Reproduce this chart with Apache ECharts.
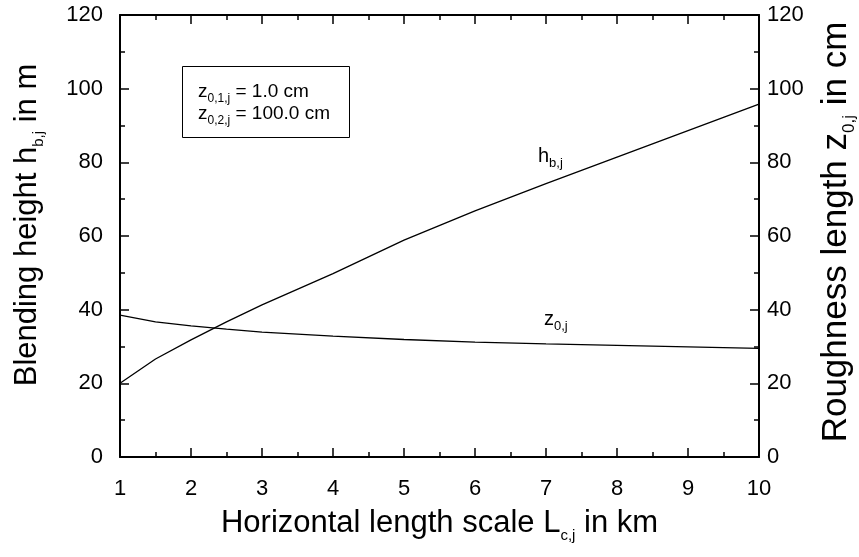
<!DOCTYPE html>
<html>
<head>
<meta charset="utf-8">
<script src="https://cdn.jsdelivr.net/npm/echarts@6/dist/echarts.min.js"></script>
<style>html,body{margin:0;padding:0;background:#fff}#c{width:859px;height:557px}</style>
</head>
<body>
<div id="c"></div>
<script>
// Data
var xKm = [1, 1.5, 2, 2.5, 3, 4, 5, 6, 7, 8, 9, 10];
var hb  = [20, 26.6, 31.8, 36.7, 41.3, 49.8, 58.9, 66.8, 74.2, 81.4, 88.6, 95.8];
var z0  = [38.5, 36.7, 35.6, 34.7, 33.9, 32.8, 31.9, 31.2, 30.7, 30.3, 29.9, 29.5];
var yTicks = [0, 20, 40, 60, 80, 100, 120];
var xTicks = [1, 2, 3, 4, 5, 6, 7, 8, 9, 10];

var FONT = '"Liberation Sans", Arial, sans-serif';
var chart = echarts.init(document.getElementById('c'), null, {renderer: 'canvas'});

function pairs(xs, ys) { return xs.map(function (x, i) { return [x, ys[i]]; }); }

function titleRich(size, sub, drop) {
  return {
    m: {fontSize: size, fontFamily: FONT, color: '#000', lineHeight: size + 4},
    s: {fontSize: sub, fontFamily: FONT, color: '#000', lineHeight: sub, padding: [drop, 0, 0, 0]}
  };
}

var axisCommon = {
  axisLine: {show: true, onZero: false, lineStyle: {color: '#000', width: 2}},
  axisTick: {show: true, inside: true, length: 9, lineStyle: {color: '#000', width: 1.5}},
  minorTick: {show: true, splitNumber: 2, length: 5, lineStyle: {color: '#000', width: 1.5}},
  splitLine: {show: false},
  minorSplitLine: {show: false}
};

var option = {
  animation: false,
  backgroundColor: '#fff',
  grid: {left: 120, right: 100, top: 15, bottom: 100, containLabel: false, outerBoundsMode: 'none'},
  xAxis: [
    Object.assign({
      type: 'value', min: xTicks[0], max: xTicks[xTicks.length - 1], interval: 1, position: 'bottom',
      axisLabel: {show: true, fontSize: 22, fontFamily: FONT, color: '#000', margin: 21},
      name: '{m|Horizontal length scale L}{s|c,j}{m| in km}',
      nameLocation: 'middle', nameGap: 48,
      nameTextStyle: {rich: titleRich(31, 15, 23)}
    }, axisCommon),
    Object.assign({
      type: 'value', min: xTicks[0], max: xTicks[xTicks.length - 1], interval: 1, position: 'top',
      axisLabel: {show: false}
    }, axisCommon)
  ],
  yAxis: [
    Object.assign({
      type: 'value', min: yTicks[0], max: yTicks[yTicks.length - 1], interval: 20, position: 'left',
      axisLabel: {show: true, fontSize: 22, fontFamily: FONT, color: '#000', margin: 17},
      name: '{m|Blending height h}{s|b,j}{m| in m}',
      nameLocation: 'middle', nameGap: 75, nameRotate: 90,
      nameTextStyle: {rich: titleRich(31, 15, 23), padding: [0, 0, 0, 22]}
    }, axisCommon),
    Object.assign({
      type: 'value', min: yTicks[0], max: yTicks[yTicks.length - 1], interval: 20, position: 'right',
      axisLabel: {show: true, fontSize: 22, fontFamily: FONT, color: '#000', margin: 8},
      name: '{m|Roughness length z}{s|0,j}{m| in cm}',
      nameLocation: 'middle', nameGap: 52, nameRotate: 90,
      nameTextStyle: {rich: titleRich(35, 17, 26), padding: [0, 0, 0, 8]}
    }, axisCommon)
  ],
  series: [
    {type: 'line', name: 'hb', xAxisIndex: 0, yAxisIndex: 0, data: pairs(xKm, hb),
     showSymbol: false, symbol: 'none', lineStyle: {color: '#000', width: 1.3}},
    {type: 'line', name: 'z0', xAxisIndex: 0, yAxisIndex: 1, data: pairs(xKm, z0),
     showSymbol: false, symbol: 'none', lineStyle: {color: '#000', width: 1.3}}
  ],
  graphic: [
    {type: 'rect', shape: {x: 182.5, y: 66.5, width: 167, height: 71},
     style: {fill: 'none', stroke: '#000', lineWidth: 1}},
    {type: 'text', x: 198, y: 81, style: {
      text: '{m|z}{s|0,1,j}{m| = 1.0 cm}',
      rich: {m: {fontSize: 19, fontFamily: FONT, fill: '#000', lineHeight: 21},
             s: {fontSize: 12, fontFamily: FONT, fill: '#000', lineHeight: 12, padding: [14, 0, 0, 0]}}}},
    {type: 'text', x: 198, y: 103, style: {
      text: '{m|z}{s|0,2,j}{m| = 100.0 cm}',
      rich: {m: {fontSize: 19, fontFamily: FONT, fill: '#000', lineHeight: 21},
             s: {fontSize: 12, fontFamily: FONT, fill: '#000', lineHeight: 12, padding: [14, 0, 0, 0]}}}},
    {type: 'text', x: 538, y: 145, style: {
      text: '{m|h}{s|b,j}',
      rich: {m: {fontSize: 20, fontFamily: FONT, fill: '#000', lineHeight: 22},
             s: {fontSize: 13, fontFamily: FONT, fill: '#000', lineHeight: 13, padding: [14, 0, 0, 0]}}}},
    {type: 'text', x: 544, y: 308, style: {
      text: '{m|z}{s|0,j}',
      rich: {m: {fontSize: 20, fontFamily: FONT, fill: '#000', lineHeight: 22},
             s: {fontSize: 13, fontFamily: FONT, fill: '#000', lineHeight: 13, padding: [14, 0, 0, 0]}}}}
  ]
};
chart.setOption(option);
</script>
</body>
</html>
